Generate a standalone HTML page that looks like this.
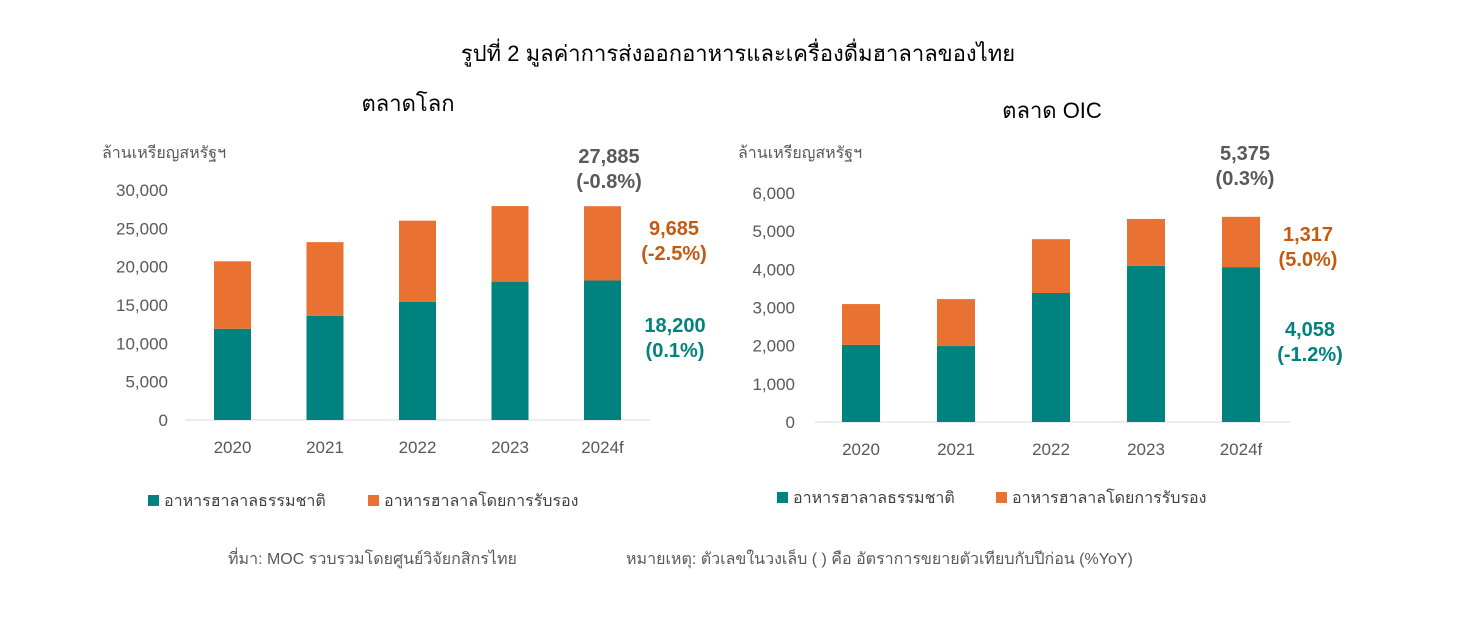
<!DOCTYPE html>
<html><head><meta charset="utf-8">
<style>
body{margin:0;background:#fff;width:1476px;height:624px;overflow:hidden;font-family:"Liberation Sans","Noto Sans CJK SC",sans-serif}
svg text{font-family:"Liberation Sans","Noto Sans CJK SC",sans-serif}
</style></head><body>
<svg id="c" width="1476" height="624">
<text x="738" y="61" font-size="22" text-anchor="middle" fill="#000">รูปที่ 2 มูลค่าการส่งออกอาหารและเครื่องดื่มฮาลาลของไทย</text>
<text x="408" y="111" font-size="22" text-anchor="middle" fill="#000">ตลาดโลก</text>
<text x="1052" y="118" font-size="22" text-anchor="middle" fill="#000">ตลาด OIC</text>
<text x="102" y="158" font-size="16" fill="#595959">ล้านเหรียญสหรัฐฯ</text>
<text x="738" y="158" font-size="16" fill="#595959">ล้านเหรียญสหรัฐฯ</text>
<g id="L"></g><g id="R"></g>
<rect x="148" y="495" width="11" height="11" fill="#00827F"/>
<text x="164" y="506" font-size="16" fill="#404040">อาหารฮาลาลธรรมชาติ</text>
<rect x="368" y="495" width="11" height="11" fill="#E97132"/>
<text x="384" y="506" font-size="16" fill="#404040">อาหารฮาลาลโดยการรับรอง</text>
<rect x="777" y="492" width="11" height="11" fill="#00827F"/>
<text x="793" y="503" font-size="16" fill="#404040">อาหารฮาลาลธรรมชาติ</text>
<rect x="996" y="492" width="11" height="11" fill="#E97132"/>
<text x="1012" y="503" font-size="16" fill="#404040">อาหารฮาลาลโดยการรับรอง</text>
<text x="228" y="564" font-size="16" fill="#595959">ที่มา: MOC รวบรวมโดยศูนย์วิจัยกสิกรไทย</text>
<text x="626" y="564" font-size="16" fill="#595959">หมายเหตุ: ตัวเลขในวงเล็บ ( ) คือ อัตราการขยายตัวเทียบกับปีก่อน (%YoY)</text>
</svg>
<script>
const categories=["2020","2021","2022","2023","2024f"];
const worldNatural=[11900,13600,15400,18000,18200];
const worldTotal=[20700,23200,26000,27900,27885];
const oicNatural=[2020,1990,3380,4090,4058];
const oicTotal=[3090,3220,4790,5320,5375];
const worldTicks=[0,5000,10000,15000,20000,25000,30000];
const oicTicks=[0,1000,2000,3000,4000,5000,6000];
const NS="http://www.w3.org/2000/svg";
function mk(g,tag,a,txt){const e=document.createElementNS(NS,tag);for(const k in a)e.setAttribute(k,a[k]);if(txt!==undefined)e.textContent=txt;g.appendChild(e);return e;}
function draw(gid,o){
 const g=document.getElementById(gid);
 const y=v=>o.y0-(v/o.max)*(o.y0-o.yTop);
 const x=i=>o.x0+i*o.step;
 o.ticks.forEach(t=>{const e=mk(g,'text',{x:o.tickX,y:y(t)+6,'font-size':17,'text-anchor':'end',fill:'#595959'},t.toLocaleString('en-US'));
  });
 const ax=mk(g,'line',{x1:o.ax1,x2:o.ax2,y1:o.y0,y2:o.y0,stroke:'#d9d9d9','stroke-width':1});
 
 categories.forEach((c,i)=>{
  const b1=mk(g,'rect',{x:x(i),y:y(o.nat[i]),width:o.w,height:o.y0-y(o.nat[i]),fill:'#00827F'});
  
  const b2=mk(g,'rect',{x:x(i),y:y(o.tot[i]),width:o.w,height:y(o.nat[i])-y(o.tot[i]),fill:'#E97132'});
  
  const t=mk(g,'text',{x:x(i)+o.w/2,y:o.y0+33,'font-size':17,'text-anchor':'middle',fill:'#595959'},c);
  
 });
 o.labels.forEach(l=>{l.lines.forEach((s,j)=>{const e=mk(g,'text',{x:l.x,y:l.y+j*25,'font-size':20,'font-weight':'bold','text-anchor':'middle',fill:l.c},s);
  });});
}
draw('L',{y0:420,yTop:190,max:30000,x0:214,step:92.5,w:37,ticks:worldTicks,tickX:168,ax1:185,ax2:650,nat:worldNatural,tot:worldTotal,
 labels:[{x:609,y:163,c:'#595959',lines:['27,885','(-0.8%)'],n:'total-label'},{x:674,y:235,c:'#C55A11',lines:['9,685','(-2.5%)'],n:'certified-label'},{x:675,y:332,c:'#00827F',lines:['18,200','(0.1%)'],n:'natural-label'}]});
draw('R',{y0:422,yTop:193,max:6000,x0:842,step:95,w:38,ticks:oicTicks,tickX:795,ax1:815,ax2:1290,nat:oicNatural,tot:oicTotal,
 labels:[{x:1245,y:160,c:'#595959',lines:['5,375','(0.3%)'],n:'total-label-oic'},{x:1308,y:241,c:'#C55A11',lines:['1,317','(5.0%)'],n:'certified-label-oic'},{x:1310,y:336,c:'#00827F',lines:['4,058','(-1.2%)'],n:'natural-label-oic'}]});
</script>
</body></html>
